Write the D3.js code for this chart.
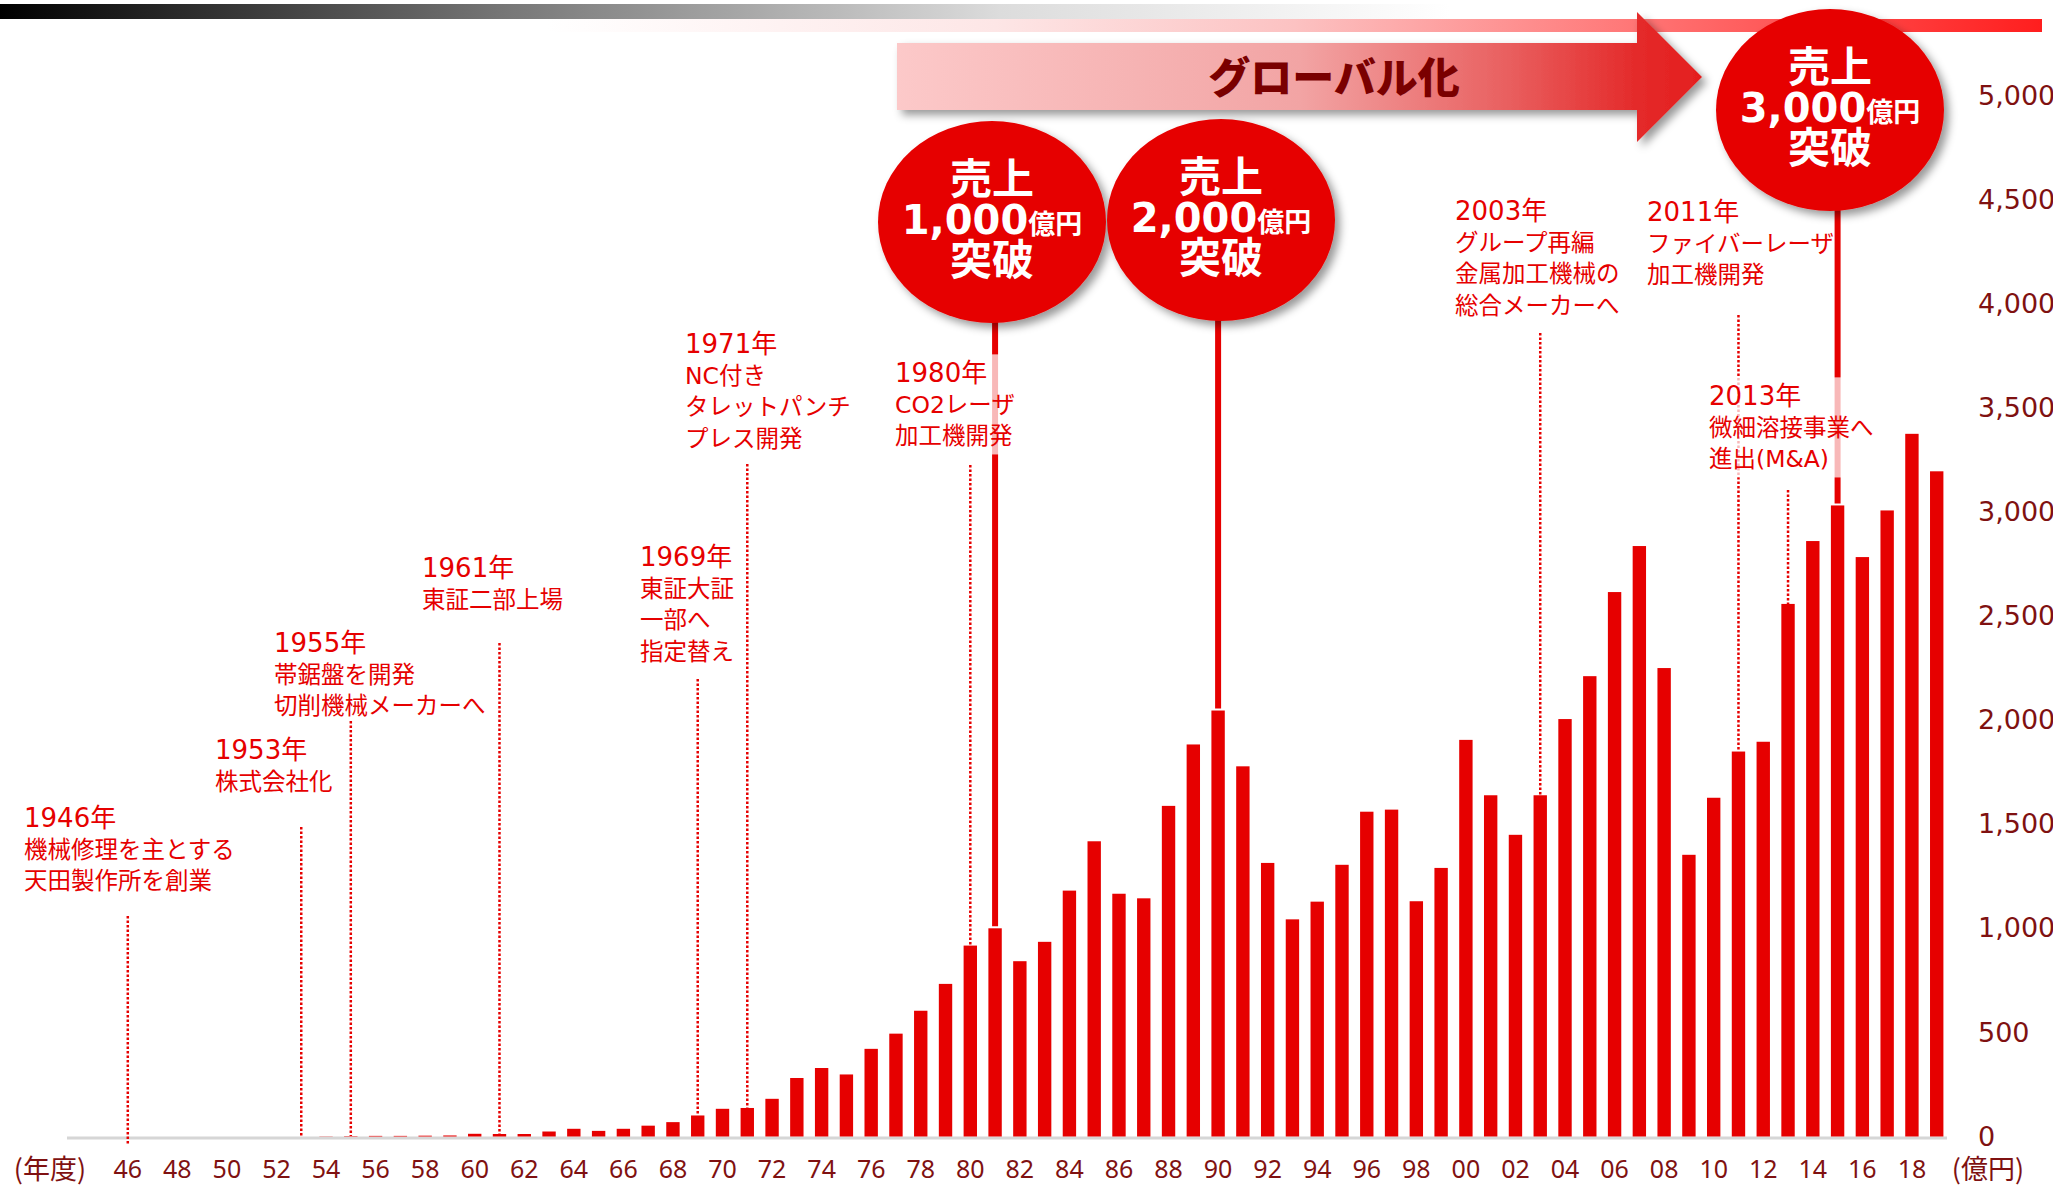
<!DOCTYPE html>
<html>
<head>
<meta charset="utf-8">
<script src="https://cdn.jsdelivr.net/npm/d3@7"></script>
<style>
  body { margin: 0; background: #fff; }
  svg { display: block; }
</style>
</head>
<body>
<div id="main"></div>
<script>
// fiscal years and sales (億円)
var years = [1946, 1947, 1948, 1949, 1950, 1951, 1952, 1953, 1954, 1955,
  1956, 1957, 1958, 1959, 1960, 1961, 1962, 1963, 1964, 1965,
  1966, 1967, 1968, 1969, 1970, 1971, 1972, 1973, 1974, 1975,
  1976, 1977, 1978, 1979, 1980, 1981, 1982, 1983, 1984, 1985,
  1986, 1987, 1988, 1989, 1990, 1991, 1992, 1993, 1994, 1995,
  1996, 1997, 1998, 1999, 2000, 2001, 2002, 2003, 2004, 2005,
  2006, 2007, 2008, 2009, 2010, 2011, 2012, 2013, 2014, 2015,
  2016, 2017, 2018, 2019];

var sales = [0, 0, 0, 0, 0, 0, 0, 0, 1, 2,
  3, 3, 4, 5, 13, 12, 12, 24, 37, 27,
  37, 52, 69, 101, 133, 137, 181, 281, 329, 298,
  421, 494, 604, 733, 917, 1000, 842, 935, 1181, 1418,
  1166, 1144, 1588, 1883, 2046, 1778, 1314, 1043, 1128, 1305,
  1560, 1570, 1130, 1290, 1905, 1639, 1449, 1639, 2005, 2211,
  2615, 2836, 2250, 1353, 1627, 1849, 1896, 2558, 2860, 3031,
  2783, 3007, 3375, 3195];

var tickYears = [1946, 1948, 1950, 1952, 1954, 1956, 1958, 1960, 1962, 1964,
  1966, 1968, 1970, 1972, 1974, 1976, 1978, 1980, 1982, 1984, 1986, 1988,
  1990, 1992, 1994, 1996, 1998, 2000, 2002, 2004, 2006, 2008, 2010, 2012,
  2014, 2016, 2018];

var yTicks = [0, 500, 1000, 1500, 2000, 2500, 3000, 3500, 4000, 4500, 5000];

var milestoneYears = [1981, 1990, 2015];
var milestoneLabels = ['1,000', '2,000', '3,000'];

var noteYears = [1946, 1953, 1955, 1961, 1969, 1971, 1980, 2003, 2011, 2013];
var noteTexts = [
  ['1946年', '機械修理を主とする', '天田製作所を創業'],
  ['1953年', '株式会社化'],
  ['1955年', '帯鋸盤を開発', '切削機械メーカーへ'],
  ['1961年', '東証二部上場'],
  ['1969年', '東証大証', '一部へ', '指定替え'],
  ['1971年', 'NC付き', 'タレットパンチ', 'プレス開発'],
  ['1980年', 'CO2レーザ', '加工機開発'],
  ['2003年', 'グループ再編', '金属加工機械の', '総合メーカーへ'],
  ['2011年', 'ファイバーレーザ', '加工機開発'],
  ['2013年', '微細溶接事業へ', '進出(M&A)']
];

// layout (not data): text box position, top of leader line
var noteLayout = [
  { x: 24,   y: 818, top: 916, below: 8 },
  { x: 215,  y: 750, top: 827 },
  { x: 274,  y: 643, top: 721 },
  { x: 422,  y: 568, top: 643 },
  { x: 640,  y: 557, top: 679 },
  { x: 685,  y: 344, top: 464 },
  { x: 895,  y: 373, top: 465, box: true },
  { x: 1455, y: 211, top: 333 },
  { x: 1647, y: 212, top: 315 },
  { x: 1709, y: 396, top: 490, box: true }
];
var circleLayout = [
  { cx: 992,  cy: 222 },
  { cx: 1221, cy: 220 },
  { cx: 1830, cy: 110 }
];

var width = 2053;
var height = 1189;
var RED = '#e60000';
var DARK = '#7f1111';
var JP = "'Noto Sans CJK JP', sans-serif";
var MIX = "'DejaVu Sans', 'Noto Sans CJK JP', sans-serif";

var svg = d3.select('#main')
  .append('svg')
  .attr('width', width)
  .attr('height', height);

var defs = svg.append('defs');

var shadow = defs.append('filter')
  .attr('id', 'shadow')
  .attr('x', '-20%').attr('y', '-20%')
  .attr('width', '150%').attr('height', '150%');
shadow.append('feDropShadow')
  .attr('dx', 5).attr('dy', 5)
  .attr('stdDeviation', 4)
  .attr('flood-color', '#000')
  .attr('flood-opacity', 0.4);

function gradient(id, stops, x1, x2) {
  var g = defs.append('linearGradient')
    .attr('id', id)
    .attr('gradientUnits', 'userSpaceOnUse')
    .attr('x1', x1).attr('x2', x2)
    .attr('y1', 0).attr('y2', 0);
  stops.forEach(function(s) {
    g.append('stop').attr('offset', s[0]).attr('stop-color', s[1]);
  });
}

gradient('grayBar', [[0, '#000'], [0.35, '#777'], [0.69, '#dcdcdc'], [1, '#fff']], 0, 1450);
gradient('redBar', [[0, '#fff'], [0.3, '#fde6e6'], [0.5, '#fcc2c2'], [0.73, '#ff7575'], [1, '#ff1e1e']], 547, 2042);
gradient('arrowFill', [[0, '#fcc9c9'], [0.5, '#f2a4a4'], [0.75, '#e96262'], [0.92, '#e42a2a'], [1, '#e41e1e']], 897, 1702);

// header bars
svg.append('rect')
  .attr('x', 0).attr('y', 4)
  .attr('width', 1450).attr('height', 15)
  .attr('fill', 'url(#grayBar)');
svg.append('rect')
  .attr('x', 547).attr('y', 19)
  .attr('width', 1495).attr('height', 13)
  .attr('fill', 'url(#redBar)');

// グローバル化 arrow
var arrowPts = [[897, 43], [1637, 43], [1637, 12], [1702, 77], [1637, 142], [1637, 110], [897, 110]];
svg.append('path')
  .attr('d', d3.line()(arrowPts) + 'Z')
  .attr('fill', 'url(#arrowFill)')
  .attr('filter', 'url(#shadow)');
svg.append('text')
  .attr('x', 1334).attr('y', 77)
  .attr('dy', '0.38em')
  .attr('text-anchor', 'middle')
  .attr('font-family', JP)
  .attr('font-weight', 900)
  .attr('font-size', 42)
  .attr('fill', '#7a0000')
  .text('グローバル化');

// scales
var x = d3.scaleBand()
  .domain(years)
  .range([115.4, 1949.1])
  .paddingInner(0.46)
  .paddingOuter(0.23);

var y = d3.scaleLinear()
  .domain([0, 5000])
  .range([1136.5, 95.5]);

function cx(yr) { return x(yr) + x.bandwidth() / 2; }
function valueOf(yr) { return sales[years.indexOf(yr)]; }

// baseline
svg.append('line')
  .attr('x1', 67).attr('x2', 1947)
  .attr('y1', 1138).attr('y2', 1138)
  .attr('stroke', '#d6d6d6')
  .attr('stroke-width', 3);

// bars
svg.append('g')
  .selectAll('rect')
  .data(years)
  .enter().append('rect')
  .attr('x', function(d) { return x(d); })
  .attr('width', x.bandwidth())
  .attr('y', function(d, i) { return y(sales[i]); })
  .attr('height', function(d, i) { return y(0) - y(sales[i]); })
  .attr('fill', RED);

// leader lines for notes
svg.append('g')
  .selectAll('line')
  .data(noteYears)
  .enter().append('line')
  .attr('x1', function(d) { return cx(d); })
  .attr('x2', function(d) { return cx(d); })
  .attr('y1', function(d, i) { return noteLayout[i].top; })
  .attr('y2', function(d, i) { return y(valueOf(d)) + (noteLayout[i].below || 0); })
  .attr('stroke', RED)
  .attr('stroke-width', 2.5)
  .attr('stroke-dasharray', '2.5,2');

// solid lines from milestone circles
svg.append('g')
  .selectAll('line')
  .data(milestoneYears)
  .enter().append('line')
  .attr('x1', function(d) { return cx(d); })
  .attr('x2', function(d) { return cx(d); })
  .attr('y1', function(d, i) { return circleLayout[i].cy + 100; })
  .attr('y2', function(d) { return y(valueOf(d)) - 2; })
  .attr('stroke', RED)
  .attr('stroke-width', 6);

// note texts
var notes = svg.append('g')
  .selectAll('g')
  .data(noteYears)
  .enter().append('g');

notes.each(function(d, i) {
  var g = d3.select(this);
  var lay = noteLayout[i];
  var box = g.append('rect').attr('fill', '#fff').attr('opacity', 0.72);
  var t = g.append('text')
    .attr('font-family', MIX)
    .attr('fill', RED);
  noteTexts[i].forEach(function(line, k) {
    t.append('tspan')
      .attr('x', lay.x)
      .attr('y', lay.y + k * 31.5)
      .attr('dy', '0.36em')
      .attr('font-size', k === 0 ? 26 : 23.5)
      .text(line);
  });
  if (lay.box) {
    var b = t.node().getBBox();
    box.attr('x', b.x - 4).attr('y', b.y - 4)
      .attr('width', b.width + 8).attr('height', b.height + 8);
  } else {
    box.remove();
  }
});

// milestone circles
var circles = svg.append('g')
  .selectAll('g')
  .data(milestoneYears)
  .enter().append('g')
  .attr('transform', function(d, i) {
    return 'translate(' + circleLayout[i].cx + ',' + circleLayout[i].cy + ')';
  });

circles.append('ellipse')
  .attr('rx', 114)
  .attr('ry', 101)
  .attr('fill', RED)
  .attr('filter', 'url(#shadow)');

circles.append('text')
  .attr('y', -44).attr('dy', '0.38em')
  .attr('text-anchor', 'middle')
  .attr('font-family', JP)
  .attr('font-weight', 700)
  .attr('font-size', 42)
  .attr('fill', '#fff')
  .text('売上');

var amount = circles.append('text')
  .attr('y', 12)
  .attr('text-anchor', 'middle')
  .attr('font-size', 40)
  .attr('font-weight', 700)
  .attr('fill', '#fff');
amount.append('tspan')
  .attr('font-family', "'DejaVu Sans', sans-serif")
  .attr('font-size', 40)
  .text(function(d, i) { return milestoneLabels[i]; });
amount.append('tspan')
  .attr('font-family', JP)
  .attr('font-size', 27)
  .text('億円');

circles.append('text')
  .attr('y', 37).attr('dy', '0.38em')
  .attr('text-anchor', 'middle')
  .attr('font-family', JP)
  .attr('font-weight', 700)
  .attr('font-size', 42)
  .attr('fill', '#fff')
  .text('突破');

// x axis
var xAxis = svg.append('g')
  .attr('transform', 'translate(0,1160)')
  .call(d3.axisBottom(x)
    .tickValues(tickYears)
    .tickSize(0)
    .tickPadding(0)
    .tickFormat(function(d) { return String(d).slice(2); }));
xAxis.select('.domain').remove();
xAxis.attr('font-family', "'Noto Sans', sans-serif")
  .attr('font-size', 25)
  .attr('color', DARK);

// y axis
var yAxis = svg.append('g')
  .attr('transform', 'translate(1978,0)')
  .call(d3.axisRight(y)
    .tickValues(yTicks)
    .tickSize(0)
    .tickPadding(0)
    .tickFormat(d3.format(',')));
yAxis.select('.domain').remove();
yAxis.attr('font-family', "'DejaVu Sans', sans-serif")
  .attr('font-size', 27)
  .attr('color', DARK);

// unit labels
svg.append('text')
  .attr('x', 50).attr('y', 1169).attr('dy', '0.36em')
  .attr('text-anchor', 'middle')
  .attr('font-family', JP)
  .attr('font-size', 27)
  .attr('fill', DARK)
  .text('(年度)');
svg.append('text')
  .attr('x', 1988).attr('y', 1169).attr('dy', '0.36em')
  .attr('text-anchor', 'middle')
  .attr('font-family', JP)
  .attr('font-size', 27)
  .attr('fill', DARK)
  .text('(億円)');
</script>
</body>
</html>
